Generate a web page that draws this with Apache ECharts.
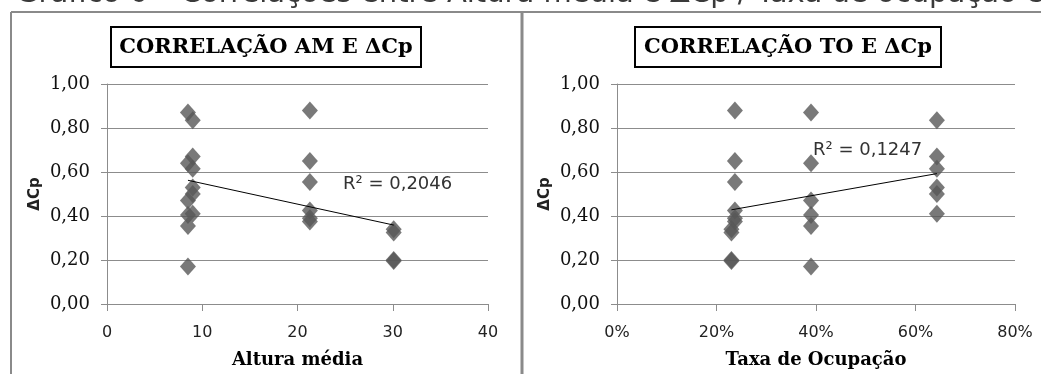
<!DOCTYPE html>
<html><head><meta charset="utf-8">
<script src="https://cdn.jsdelivr.net/npm/echarts@6/dist/echarts.min.js"></script>
<style>html,body{margin:0;padding:0;background:#fff}#c{width:1041px;height:374px}</style>
</head><body><div id="c"></div>
<script>
// ---- text ----
const captionText = 'Gráfico 6 – Correlações entre Altura média e ΔCp / Taxa de ocupação e ΔCp';
const amTitle = 'CORRELAÇÃO AM E ΔCp';
const toTitle = 'CORRELAÇÃO TO E ΔCp';
const amAxisName = 'Altura média';
const toAxisName = 'Taxa de Ocupação';
const yAxisName = 'ΔCp';
const amR2Label = 'R² = 0,2046';
const toR2Label = 'R² = 0,1247';

// ---- axis ticks ----
const yTicks = [0, 0.2, 0.4, 0.6, 0.8, 1.0];
const amTicks = [0, 10, 20, 30, 40];
const toTicks = [0, 0.2, 0.4, 0.6, 0.8];

// ---- data: one entry per case ----
const alturaMedia = [
  8.5, 8.5, 8.5, 8.5, 8.5, 8.5,
  9.0, 9.0, 9.0, 9.0, 9.0, 9.0,
  21.3, 21.3, 21.3, 21.3, 21.3, 21.3,
  30.1, 30.1, 30.1, 30.1
];
const taxaOcupacao = [
  0.39, 0.39, 0.39, 0.39, 0.39, 0.39,
  0.643, 0.643, 0.643, 0.643, 0.643, 0.643,
  0.237, 0.237, 0.237, 0.237, 0.237, 0.237,
  0.23, 0.23, 0.23, 0.23
];
const deltaCp = [
  0.87, 0.64, 0.47, 0.405, 0.355, 0.17,
  0.835, 0.67, 0.615, 0.53, 0.50, 0.41,
  0.88, 0.65, 0.555, 0.425, 0.39, 0.375,
  0.34, 0.325, 0.20, 0.195
];

function linFit(xs, ys) {
  const n = xs.length;
  const mx = xs.reduce((a, b) => a + b, 0) / n;
  const my = ys.reduce((a, b) => a + b, 0) / n;
  let sxy = 0, sxx = 0;
  for (let i = 0; i < n; i++) { sxy += (xs[i] - mx) * (ys[i] - my); sxx += (xs[i] - mx) ** 2; }
  const b = sxy / sxx, a = my - b * mx;
  const x0 = Math.min(...xs), x1 = Math.max(...xs);
  return [[x0, a + b * x0], [x1, a + b * x1]];
}

const amPts = alturaMedia.map((x, i) => [x, deltaCp[i]]);
const toPts = taxaOcupacao.map((x, i) => [x, deltaCp[i]]);
const amTrend = linFit(alturaMedia, deltaCp);
const toTrend = linFit(taxaOcupacao, deltaCp);

const gridColor = '#8c8c8c';
const chart = echarts.init(document.getElementById('c'), null, { renderer: 'canvas' });

function yAxisCfg(gi) {
  return {
    type: 'value', gridIndex: gi, min: yTicks[0], max: yTicks[yTicks.length - 1],
    interval: yTicks[1] - yTicks[0],
    name: yAxisName, nameLocation: 'middle', nameRotate: 90, nameGap: 64,
    nameTextStyle: { fontFamily: 'DejaVu Sans', fontWeight: 'bold', fontSize: 15, color: '#222' },
    axisLine: { show: true, lineStyle: { color: gridColor, width: 1 } },
    axisTick: { show: true, length: 6, lineStyle: { color: gridColor } },
    axisLabel: { fontFamily: 'DejaVu Serif', fontSize: 18, color: '#111', margin: 17,
      formatter: v => v.toFixed(2).replace('.', ',') },
    splitLine: { show: true, lineStyle: { color: gridColor, width: 1 } }
  };
}
function xAxisCfg(gi, ticks, name, fmt) {
  return {
    type: 'value', gridIndex: gi, min: ticks[0], max: ticks[ticks.length - 1],
    interval: ticks[1] - ticks[0],
    name: name, nameLocation: 'middle', nameGap: 47,
    nameTextStyle: { fontFamily: 'DejaVu Serif', fontWeight: 'bold', fontSize: 18, color: '#000' },
    axisLine: { show: true, onZero: false, lineStyle: { color: gridColor, width: 1 } },
    axisTick: { show: true, length: 7, lineStyle: { color: gridColor } },
    axisLabel: { fontFamily: 'DejaVu Sans', fontSize: 16, color: '#222', margin: 21, formatter: fmt },
    splitLine: { show: false }
  };
}

const titleStyle = { fontFamily: 'DejaVu Serif', fontWeight: 'bold', fontSize: 21, color: '#000' };

chart.setOption({
  animation: false,
  backgroundColor: '#fff',
  title: [
    { text: amTitle, left: 257, top: 27, textAlign: 'center', padding: [10, 9, 9, 9],
      borderColor: '#000', borderWidth: 2, textStyle: titleStyle },
    { text: toTitle, left: 779, top: 27, textAlign: 'center', padding: [10, 9, 9, 9],
      borderColor: '#000', borderWidth: 2, textStyle: titleStyle }
  ],
  grid: [
    { left: 107, right: 553, top: 84, bottom: 70, outerBoundsMode: 'none', containLabel: false },
    { left: 617, right: 26, top: 84, bottom: 70, outerBoundsMode: 'none', containLabel: false }
  ],
  xAxis: [
    xAxisCfg(0, amTicks, amAxisName, v => String(v)),
    xAxisCfg(1, toTicks, toAxisName, v => Math.round(v * 100) + '%')
  ],
  yAxis: [yAxisCfg(0), yAxisCfg(1)],
  series: [
    { type: 'scatter', xAxisIndex: 0, yAxisIndex: 0, data: amPts, symbol: 'diamond',
      symbolSize: [16, 18], itemStyle: { color: '#575757' } },
    { type: 'line', xAxisIndex: 0, yAxisIndex: 0, data: amTrend, symbol: 'none', z: 5,
      lineStyle: { color: '#000', width: 1 } },
    { type: 'scatter', xAxisIndex: 1, yAxisIndex: 1, data: toPts, symbol: 'diamond',
      symbolSize: [16, 18], itemStyle: { color: '#575757' } },
    { type: 'line', xAxisIndex: 1, yAxisIndex: 1, data: toTrend, symbol: 'none', z: 5,
      lineStyle: { color: '#000', width: 1 } }
  ],
  graphic: [
    { type: 'text', left: 16, top: -20, style: { text: captionText, font: '29px "DejaVu Sans"', fill: '#3a3a3a' } },
    { type: 'line', shape: { x1: 11, y1: 12, x2: 1041, y2: 12 }, style: { stroke: '#8a8a8a', lineWidth: 2 } },
    { type: 'line', shape: { x1: 11, y1: 12, x2: 11, y2: 374 }, style: { stroke: '#8a8a8a', lineWidth: 2 } },
    { type: 'line', shape: { x1: 522, y1: 12, x2: 522, y2: 374 }, style: { stroke: '#8a8a8a', lineWidth: 3 } },
    { type: 'text', x: 343, y: 184, style: { text: amR2Label, font: '18px "DejaVu Sans"', fill: '#333', verticalAlign: 'middle' }, z: 10 },
    { type: 'text', x: 813, y: 150, style: { text: toR2Label, font: '18px "DejaVu Sans"', fill: '#333', verticalAlign: 'middle' }, z: 10 }
  ]
});
</script></body></html>
